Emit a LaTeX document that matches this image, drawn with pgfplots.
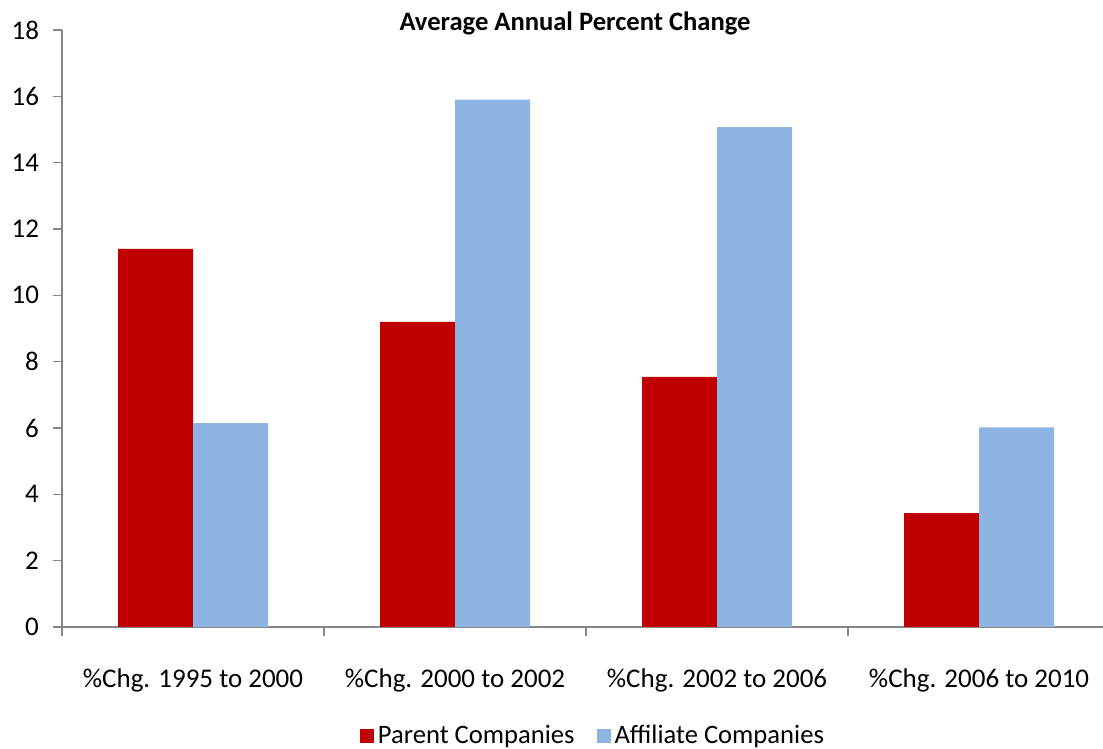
\documentclass[border=0pt]{standalone}
\usepackage{pgfplots}
\pgfplotsset{compat=1.18}
\usepackage{fontspec}
\setmainfont{Carlito}
\definecolor{parent}{HTML}{C00000}
\definecolor{affil}{HTML}{8EB4E3}
\definecolor{axgray}{HTML}{868686}
\begin{document}
\begin{tikzpicture}
\begin{axis}[name=ax, scale only axis, width=520.5pt, height=298.5pt,
  ybar=0pt, bar width=37.5pt,
  xmin=-0.5, xmax=3.473, ymin=0, ymax=18,
  ytick={0,2,...,18},
  xtick={-0.5,0.5,1.5,2.5}, xticklabels={},
  extra x ticks={0,1,2,3},
  extra x tick labels={\%Chg. 1995 to 2000,\%Chg. 2000 to 2002,\%Chg. 2002 to 2006,\%Chg. 2006 to 2010},
  extra x tick style={major tick length=0pt, tick label style={anchor=center, yshift=-26.5pt}},
  axis x line*=bottom, axis y line*=left,
  axis line style={draw=axgray, line width=0.6pt, -},
  tick align=outside, major tick length=4.5pt,
  tick style={draw=axgray, line width=0.6pt},
  /pgf/number format/assume math mode=true,
  tick label style={font=\fontsize{13.5}{16}\selectfont, text=black},
  yticklabel style={xshift=-3.5pt},
  legend style={at={(0.511,-0.1826)}, anchor=center, draw=none, legend columns=2,
    font=\fontsize{13.3}{16}\selectfont, inner sep=0pt,
    /tikz/every even column/.append style={column sep=9pt}},
  legend cell align=left,
  clip=false,
]
\addplot[fill=parent, draw=none, legend image code/.code={\fill[parent] (0pt,-3.5pt) rectangle (7pt,3.5pt);}]
  coordinates {(0,11.4) (1,9.2) (2,7.54) (3,3.43)};
\addlegendentry{Parent Companies}
\addplot[fill=affil, draw=none, legend image code/.code={\fill[affil] (0pt,-3.5pt) rectangle (7pt,3.5pt);}]
  coordinates {(0,6.15) (1,15.9) (2,15.07) (3,6.02)};
\addlegendentry{Affiliate Companies}
\end{axis}
\node[font=\fontsize{13.3}{16}\selectfont\bfseries] at ([shift={(256.5pt,302pt)}]ax.south west) {Average Annual Percent Change};
\pgfresetboundingbox
\path[use as bounding box] ([shift={(-31pt,-61pt)}]ax.south west) rectangle ([shift={(520.5pt,313.5pt)}]ax.south west);
\end{tikzpicture}
\end{document}
